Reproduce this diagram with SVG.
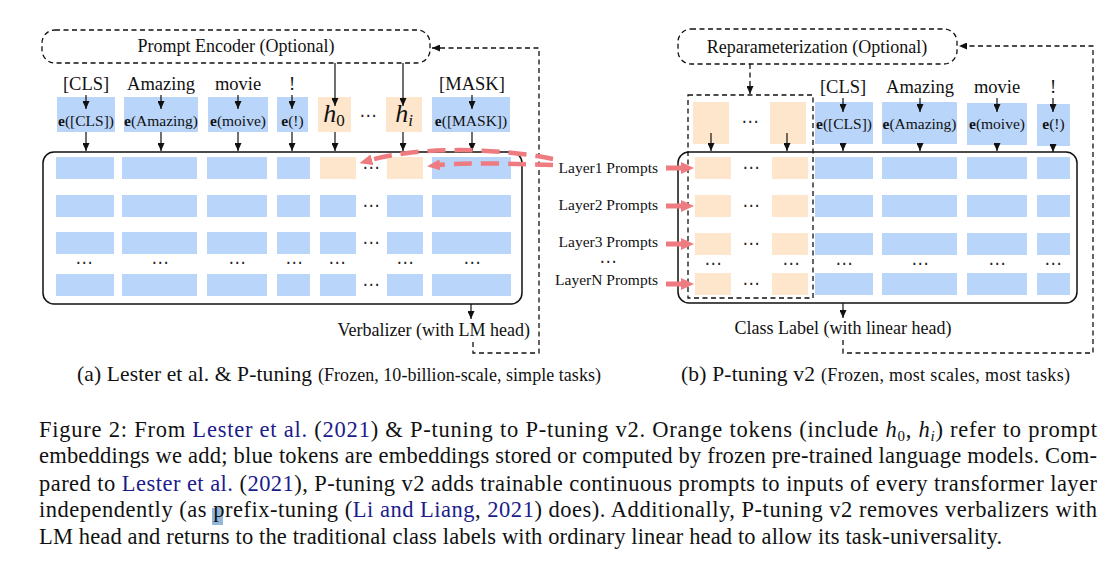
<svg xmlns="http://www.w3.org/2000/svg" width="1112" height="564" viewBox="0 0 1112 564">
<defs>
<style>
.t{font-family:"Liberation Serif","Times New Roman",serif;fill:#111}
.lbl{font-size:18.5px;text-anchor:middle}
.emb{font-size:15.5px;text-anchor:middle}
.hh{font-size:26px;font-style:italic;text-anchor:middle}
.lay{font-size:15.5px;text-anchor:end}
.b{fill:#bad5fa}
.o{fill:#fde6cc}
.ln{stroke:#111;stroke-width:1.2;fill:none}
.dash{stroke:#111;stroke-width:1.3;fill:none;stroke-dasharray:5 3.5}
.frame{stroke:#111;stroke-width:1.5;fill:none}
.dots{font-family:"DejaVu Sans",sans-serif;font-size:17px;text-anchor:middle;fill:#222;letter-spacing:0}
.red{stroke:#ee7b80;stroke-width:4.5;fill:none;stroke-dasharray:18 9}
.rar{fill:#ee7b80}
.cap{font-size:22.5px}
.link{fill:#1c1c8c}
</style>
<marker id="ah" markerUnits="userSpaceOnUse" markerWidth="8" markerHeight="7" refX="8" refY="3.5" orient="auto">
<path d="M0,0 L8,3.5 L0,7 z" fill="#111"/>
</marker>
<marker id="rh" markerUnits="userSpaceOnUse" markerWidth="13" markerHeight="11" refX="1" refY="5.5" orient="auto">
<path d="M0,0 L13,5.5 L0,11 z" fill="#ee7b80"/>
</marker>
</defs>
<rect width="1112" height="564" fill="#fff"/>

<!-- ===== Left diagram ===== -->
<g id="prompt-encoder">
<rect x="42" y="30" width="388" height="33" rx="13" class="dash"/>
<text x="236" y="52" class="t lbl" style="font-size:18px">Prompt Encoder (Optional)</text>
</g>

<g id="left-inputs">
<text x="86" y="90" class="t lbl">[CLS]</text>
<text x="161" y="90" class="t lbl">Amazing</text>
<text x="238" y="90" class="t lbl">movie</text>
<text x="292" y="90" class="t lbl">!</text>
<text x="472" y="90" class="t lbl">[MASK]</text>
</g>

<g id="left-embeddings">
<rect x="57" y="97" width="58" height="35" class="b"/>
<rect x="124" y="97" width="74" height="35" class="b"/>
<rect x="208" y="97" width="60" height="35" class="b"/>
<rect x="277" y="97" width="31" height="35" class="b"/>
<rect x="318" y="97" width="33" height="35" class="o"/>
<rect x="386" y="97" width="36" height="35" class="o"/>
<rect x="432" y="97" width="78" height="35" class="b"/>
<text x="86" y="126" class="t emb"><tspan font-weight="bold">e</tspan>([CLS])</text>
<text x="161" y="126" class="t emb"><tspan font-weight="bold">e</tspan>(Amazing)</text>
<text x="238" y="126" class="t emb"><tspan font-weight="bold">e</tspan>(moive)</text>
<text x="292.5" y="126" class="t emb"><tspan font-weight="bold">e</tspan>(!)</text>
<text x="471" y="126" class="t emb"><tspan font-weight="bold">e</tspan>([MASK])</text>
<text x="334" y="122" class="t hh">h<tspan font-size="17" font-style="normal" dy="4">0</tspan></text>
<text x="404" y="122" class="t hh">h<tspan font-size="17" dy="4">i</tspan></text>
<text x="368" y="121" class="dots">⋯</text>
</g>

<g id="left-transformer">
<rect x="43" y="152" width="479" height="152" rx="11" class="frame"/>
<g id="left-row1">
<rect x="56" y="157" width="58" height="22" class="b"/>
<rect x="122" y="157" width="75" height="22" class="b"/>
<rect x="207" y="157" width="60" height="22" class="b"/>
<rect x="277" y="157" width="33" height="22" class="b"/>
<rect x="320" y="157" width="36" height="22" class="o"/>
<rect x="387" y="157" width="36" height="22" class="o"/>
<rect x="432" y="157" width="79" height="22" class="b"/>
<text x="371" y="173" class="dots">⋯</text>
</g>
<g id="left-row2">
<rect x="56" y="195" width="58" height="22" class="b"/>
<rect x="122" y="195" width="75" height="22" class="b"/>
<rect x="207" y="195" width="60" height="22" class="b"/>
<rect x="277" y="195" width="33" height="22" class="b"/>
<rect x="320" y="195" width="36" height="22" class="b"/>
<rect x="387" y="195" width="36" height="22" class="b"/>
<rect x="432" y="195" width="79" height="22" class="b"/>
<text x="371" y="211" class="dots">⋯</text>
</g>
<g id="left-row3">
<rect x="56" y="232" width="58" height="22" class="b"/>
<rect x="122" y="232" width="75" height="22" class="b"/>
<rect x="207" y="232" width="60" height="22" class="b"/>
<rect x="277" y="232" width="33" height="22" class="b"/>
<rect x="320" y="232" width="36" height="22" class="b"/>
<rect x="387" y="232" width="36" height="22" class="b"/>
<rect x="432" y="232" width="79" height="22" class="b"/>
<text x="371" y="248" class="dots">⋯</text>
</g>
<g id="left-dots">
<text x="84" y="268" class="dots">⋯</text>
<text x="160" y="268" class="dots">⋯</text>
<text x="237" y="268" class="dots">⋯</text>
<text x="294" y="268" class="dots">⋯</text>
<text x="337" y="268" class="dots">⋯</text>
<text x="405" y="268" class="dots">⋯</text>
<text x="472" y="268" class="dots">⋯</text>
</g>
<g id="left-rowN">
<rect x="56" y="274" width="58" height="22" class="b"/>
<rect x="122" y="274" width="75" height="22" class="b"/>
<rect x="207" y="274" width="60" height="22" class="b"/>
<rect x="277" y="274" width="33" height="22" class="b"/>
<rect x="320" y="274" width="36" height="22" class="b"/>
<rect x="387" y="274" width="36" height="22" class="b"/>
<rect x="432" y="274" width="79" height="22" class="b"/>
<text x="371" y="290" class="dots">⋯</text>
</g>
</g>

<g id="verbalizer">
<text x="530" y="336" class="t" style="font-size:18px;text-anchor:end">Verbalizer (with LM head)</text>
</g>

<g id="caption-a">
<text x="77" y="381" class="t" style="font-size:21.5px" textLength="235">(a) Lester et al. &amp; P-tuning</text>
<text x="318" y="381" class="t" style="font-size:18px" textLength="283">(Frozen, 10-billion-scale, simple tasks)</text>
</g>

<!-- ===== Right diagram ===== -->
<g id="reparameterization">
<rect x="678" y="29" width="279" height="35" rx="13" class="dash"/>
<text x="817" y="53" class="t lbl" style="font-size:18px">Reparameterization (Optional)</text>
</g>

<g id="right-inputs">
<text x="843" y="93" class="t lbl">[CLS]</text>
<text x="920" y="93" class="t lbl">Amazing</text>
<text x="997" y="93" class="t lbl">movie</text>
<text x="1053" y="93" class="t lbl">!</text>
</g>

<g id="right-embeddings">
<rect x="693" y="102" width="36" height="42" class="o"/>
<rect x="770" y="102" width="36" height="42" class="o"/>
<text x="750" y="127" class="dots">⋯</text>
<rect x="815" y="102" width="58" height="42" class="b"/>
<rect x="882" y="102" width="75" height="42" class="b"/>
<rect x="967" y="103" width="60" height="42" class="b"/>
<rect x="1037" y="104" width="33" height="42" class="b"/>
<text x="844" y="129" class="t emb"><tspan font-weight="bold">e</tspan>([CLS])</text>
<text x="919.5" y="129" class="t emb"><tspan font-weight="bold">e</tspan>(Amazing)</text>
<text x="997" y="129" class="t emb"><tspan font-weight="bold">e</tspan>(moive)</text>
<text x="1053.5" y="129" class="t emb"><tspan font-weight="bold">e</tspan>(!)</text>
</g>

<g id="right-transformer">
<rect x="678" y="152" width="399" height="151" rx="11" class="frame"/>
<g id="right-row1">
<rect x="695" y="157" width="36" height="22" class="o"/>
<rect x="772" y="157" width="36" height="22" class="o"/>
<text x="751" y="173" class="dots">⋯</text>
<rect x="815" y="157" width="58" height="22" class="b"/>
<rect x="882" y="157" width="75" height="22" class="b"/>
<rect x="967" y="157" width="60" height="22" class="b"/>
<rect x="1037" y="157" width="33" height="22" class="b"/>
</g>
<g id="right-row2">
<rect x="695" y="195" width="36" height="22" class="o"/>
<rect x="772" y="195" width="36" height="22" class="o"/>
<text x="751" y="211" class="dots">⋯</text>
<rect x="815" y="195" width="58" height="22" class="b"/>
<rect x="882" y="195" width="75" height="22" class="b"/>
<rect x="967" y="195" width="60" height="22" class="b"/>
<rect x="1037" y="195" width="33" height="22" class="b"/>
</g>
<g id="right-row3">
<rect x="695" y="233" width="36" height="22" class="o"/>
<rect x="772" y="233" width="36" height="22" class="o"/>
<text x="751" y="249" class="dots">⋯</text>
<rect x="815" y="233" width="58" height="22" class="b"/>
<rect x="882" y="233" width="75" height="22" class="b"/>
<rect x="967" y="233" width="60" height="22" class="b"/>
<rect x="1037" y="233" width="33" height="22" class="b"/>
</g>
<g id="right-dots">
<text x="713" y="269" class="dots">⋯</text>
<text x="791" y="269" class="dots">⋯</text>
<text x="844" y="269" class="dots">⋯</text>
<text x="920" y="269" class="dots">⋯</text>
<text x="997" y="269" class="dots">⋯</text>
<text x="1053" y="269" class="dots">⋯</text>
</g>
<g id="right-rowN">
<rect x="695" y="273" width="36" height="22" class="o"/>
<rect x="772" y="273" width="36" height="22" class="o"/>
<text x="751" y="289" class="dots">⋯</text>
<rect x="815" y="273" width="58" height="22" class="b"/>
<rect x="882" y="273" width="75" height="22" class="b"/>
<rect x="967" y="273" width="60" height="22" class="b"/>
<rect x="1037" y="273" width="33" height="22" class="b"/>
</g>
</g>

<g id="prompt-region">
<rect x="688" y="95" width="125" height="203" class="dash"/>
</g>

<g id="layer-labels">
<text x="658" y="173" class="t lay">Layer1 Prompts</text>
<text x="658" y="210" class="t lay">Layer2 Prompts</text>
<text x="658" y="247" class="t lay">Layer3 Prompts</text>
<text x="608" y="267" class="dots">⋯</text>
<text x="658" y="285" class="t lay">LayerN Prompts</text>
</g>

<g id="class-label">
<text x="843" y="334" class="t" style="font-size:18px;text-anchor:middle">Class Label (with linear head)</text>
</g>

<g id="caption-b">
<text x="681" y="381" class="t" style="font-size:21.5px" textLength="134">(b) P-tuning v2</text>
<text x="821" y="381" class="t" style="font-size:18px" textLength="249">(Frozen, most scales, most tasks)</text>
</g>

<!-- ===== Connectors ===== -->
<g id="connectors">
<g class="ln" marker-end="url(#ah)">
<line x1="86" y1="95" x2="86" y2="109"/>
<line x1="161" y1="95" x2="161" y2="109"/>
<line x1="238" y1="95" x2="238" y2="109"/>
<line x1="292" y1="95" x2="292" y2="109"/>
<line x1="472" y1="95" x2="472" y2="109"/>
<line x1="335" y1="63" x2="335" y2="106"/>
<line x1="403" y1="63" x2="403" y2="106"/>
<line x1="86" y1="132" x2="86" y2="151"/>
<line x1="161" y1="132" x2="161" y2="151"/>
<line x1="238" y1="132" x2="238" y2="151"/>
<line x1="292" y1="132" x2="292" y2="151"/>
<line x1="335" y1="132" x2="335" y2="151"/>
<line x1="403" y1="132" x2="403" y2="151"/>
<line x1="472" y1="132" x2="472" y2="151"/>
<line x1="471" y1="304" x2="471" y2="319"/>
<line x1="843" y1="98" x2="843" y2="112"/>
<line x1="920" y1="98" x2="920" y2="112"/>
<line x1="997" y1="98" x2="997" y2="112"/>
<line x1="1053" y1="98" x2="1053" y2="112"/>
<line x1="843" y1="144" x2="843" y2="151"/>
<line x1="920" y1="144" x2="920" y2="151"/>
<line x1="997" y1="145" x2="997" y2="151"/>
<line x1="1053" y1="146" x2="1053" y2="152"/>
<line x1="711" y1="133" x2="711" y2="151"/>
<line x1="787" y1="133" x2="787" y2="151"/>
<line x1="843" y1="303" x2="843" y2="318"/>
</g>
<path d="M473 342 V353 H539 V48 H432" class="dash" marker-end="url(#ah)"/>
<path d="M843 340 V353 H1093 V46 H959" class="dash" marker-end="url(#ah)"/>
<path d="M750 64 V94" class="dash" marker-end="url(#ah)"/>
<path d="M553 159 C500 148 420 146 371 160" class="red" marker-end="url(#rh)"/>
<path d="M553 165 C520 164 470 162 439 165" class="red" marker-end="url(#rh)"/>
<path d="M666 165.5 H681 V162 L694 168 L681 174 V170.5 H666 Z" class="rar"/>
<path d="M666 203.5 H681 V200 L694 206 L681 212 V208.5 H666 Z" class="rar"/>
<path d="M666 241.5 H681 V238 L694 244 L681 250 V246.5 H666 Z" class="rar"/>
<path d="M666 281.5 H681 V278 L694 284 L681 290 V286.5 H666 Z" class="rar"/>
</g>

<!-- ===== Figure caption ===== -->
<g id="figure-caption">
<rect x="212" y="508" width="11" height="17" fill="#93b8d8"/>
<text x="39" y="437" class="t cap" textLength="1058">Figure 2: From <tspan class="link">Lester et al.</tspan> (<tspan class="link">2021</tspan>) &amp; P-tuning to P-tuning v2. Orange tokens (include <tspan font-style="italic">h</tspan><tspan font-size="15" dy="4">0</tspan><tspan dy="-4">, </tspan><tspan font-style="italic">h</tspan><tspan font-size="15" font-style="italic" dy="4">i</tspan><tspan dy="-4">) refer to prompt</tspan></text>
<text x="39" y="463" class="t cap" textLength="1058">embeddings we add; blue tokens are embeddings stored or computed by frozen pre-trained language models. Com-</text>
<text x="39" y="491" class="t cap" textLength="1058">pared to <tspan class="link">Lester et al.</tspan> (<tspan class="link">2021</tspan>), P-tuning v2 adds trainable continuous prompts to inputs of every transformer layer</text>
<text x="39" y="517" class="t cap" textLength="1058">independently (as prefix-tuning (<tspan class="link">Li and Liang</tspan>, <tspan class="link">2021</tspan>) does). Additionally, P-tuning v2 removes verbalizers with</text>
<text x="39" y="544" class="t cap" textLength="963">LM head and returns to the traditional class labels with ordinary linear head to allow its task-universality.</text>
</g>
</svg>
